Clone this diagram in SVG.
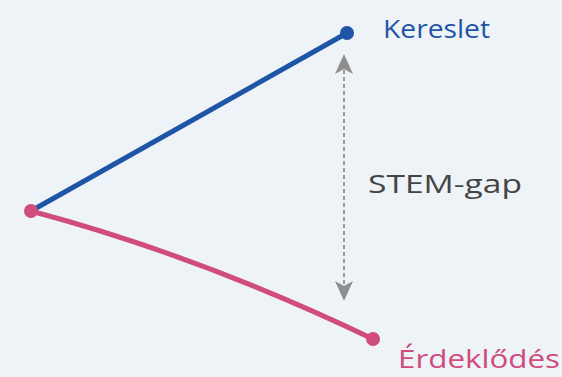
<svg xmlns="http://www.w3.org/2000/svg" width="562" height="377" viewBox="0 0 562 377">
<style>
.lbl{font-family:"Open Sans","Liberation Sans",sans-serif;font-size:25px;font-weight:500}
</style>
<defs>
<marker id="ah" viewBox="0 0 20 18" refX="4" refY="9" markerWidth="20" markerHeight="18" markerUnits="userSpaceOnUse" orient="auto-start-reverse">
<path d="M0,0 L20,9 L0,18 L5,9 z" fill="#8e8e8e"/>
</marker>
</defs>
<rect width="562" height="377" fill="#eef3f8"/>
<g id="connectors">
<line x1="31" y1="211" x2="347" y2="33" stroke="#1f55a6" stroke-width="5" stroke-linecap="round"/>
<path d="M31,211 Q200,256 373,339" fill="none" stroke="#d04b7e" stroke-width="5" stroke-linecap="round"/>
<line x1="344" y1="70" x2="344" y2="285" stroke="#9a9a9a" stroke-width="2" stroke-dasharray="4,3" marker-start="url(#ah)" marker-end="url(#ah)"/>
</g>
<g id="origin">
<circle cx="31" cy="211" r="7" fill="#d04b7e"/>
</g>
<g id="kereslet">
<circle cx="347" cy="33" r="7" fill="#1f55a6"/>
<text class="lbl" x="383" y="38" fill="#1f55a6" textLength="107" lengthAdjust="spacingAndGlyphs">Kereslet</text>
</g>
<g id="erdeklodes">
<circle cx="373" cy="339" r="7" fill="#d04b7e"/>
<text class="lbl" x="398" y="368" fill="#d04b7e" textLength="162" lengthAdjust="spacingAndGlyphs">Érdeklődés</text>
</g>
<g id="gap">
<text class="lbl" x="368" y="193" fill="#444444" font-size="26" textLength="154" lengthAdjust="spacingAndGlyphs">STEM-gap</text>
</g>
</svg>
